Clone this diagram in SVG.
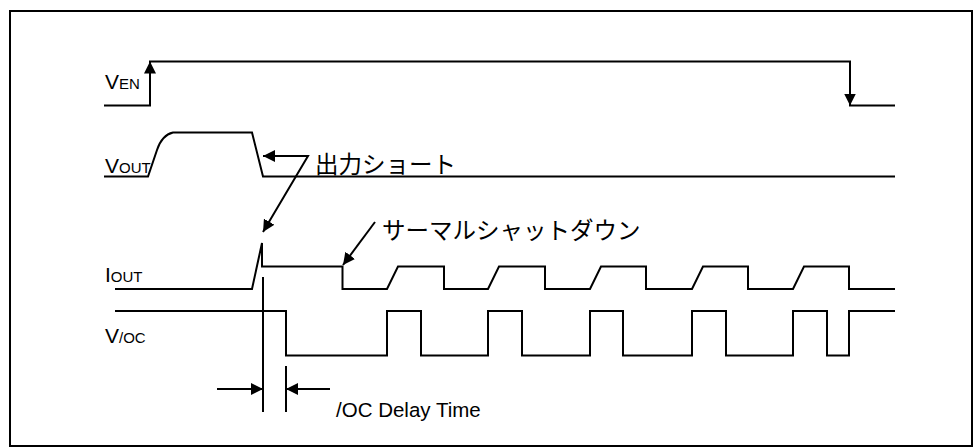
<svg xmlns="http://www.w3.org/2000/svg" width="974" height="448" viewBox="0 0 974 448">
<defs>
<style>
.w{fill:none;stroke:#000;stroke-width:2;stroke-linejoin:miter}
.t{font-family:"Liberation Sans",Arial,sans-serif;fill:#000}
.j{font-family:"Noto Sans CJK JP",sans-serif;font-size:23.5px;fill:#000}
</style>
<marker id="ah" viewBox="0 0 12 12" refX="12" refY="6" markerWidth="12" markerHeight="12" markerUnits="userSpaceOnUse" orient="auto">
<path d="M0,0 L12,6 L0,12 Z" fill="#000"/>
</marker>
<marker id="ahs" viewBox="0 0 12 12" refX="12" refY="6" markerWidth="12" markerHeight="12" markerUnits="userSpaceOnUse" orient="auto-start-reverse">
<path d="M0,0 L12,6 L0,12 Z" fill="#000"/>
</marker>
</defs>
<rect x="10" y="11" width="962" height="435" fill="#fff" stroke="#000" stroke-width="2"/>
<g id="labels">
<text class="t" x="105" y="89" font-size="21">V<tspan font-size="15">EN</tspan></text>
<text class="t" x="105" y="173" font-size="21">V<tspan font-size="15">OUT</tspan></text>
<text class="t" x="105" y="282" font-size="21">I<tspan font-size="15">OUT</tspan></text>
<text class="t" x="105" y="343" font-size="21">V<tspan font-size="15">/OC</tspan></text>
</g>
<g id="waveforms">
<path id="ven" class="w" d="M104,105.5 H150 V61.5 H850 V105.5 H895"/>
<path id="vout" class="w" d="M104,176.5 H148 L157,150 Q162,135 173,132.5 H252 L263,176.5 H895"/>
<path id="iout" class="w" d="M115,289 H252 L262,243 V266.5 H342.5 V289 H387 L398,266.5 H444 V289 H488 L499,266.5 H545 V289 H590 L601,266.5 H646 V289 H692 L703,266.5 H748 V289 H793 L804,266.5 H849 V289 H895"/>
<path id="voc" class="w" d="M115,311 H286 V355.5 H387 V311 H421 V355.5 H488 V311 H522 V355.5 H590 V311 H623 V355.5 H692 V311 H726 V355.5 H793 V311 H827 V355.5 H849 V311 H895"/>
</g>
<g id="connectors">
<line class="w" x1="150" y1="80" x2="150" y2="61.5" marker-end="url(#ah)"/>
<line class="w" x1="850" y1="88" x2="850" y2="105.5" marker-end="url(#ah)"/>
<path class="w" d="M263,156 H308 L263,232" marker-start="url(#ahs)" marker-end="url(#ah)"/>
<line class="w" x1="375" y1="222" x2="343" y2="265" marker-end="url(#ah)"/>
<line class="w" x1="263" y1="277" x2="263" y2="412"/>
<line class="w" x1="286" y1="366" x2="286" y2="412"/>
<line class="w" x1="217" y1="389" x2="263" y2="389" marker-end="url(#ah)"/>
<line class="w" x1="330" y1="389" x2="286" y2="389" marker-end="url(#ah)"/>
</g>
<g id="annotations">
<text class="j" x="315" y="173">出力ショート</text>
<text class="j" x="382" y="239">サーマルシャットダウン</text>
<text class="t" x="336" y="417" font-size="20.5">/OC Delay Time</text>
</g>
</svg>
